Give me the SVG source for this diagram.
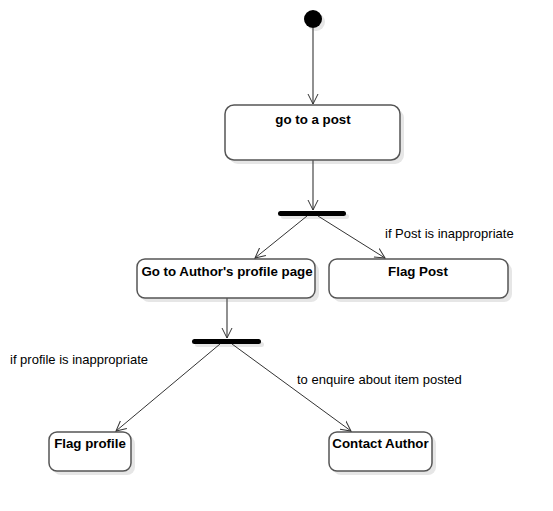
<svg xmlns="http://www.w3.org/2000/svg" width="553" height="511" viewBox="0 0 553 511">
<defs>
<marker id="arr" markerWidth="12" markerHeight="12" refX="10" refY="5" orient="auto" markerUnits="userSpaceOnUse" viewBox="0 0 12 10">
<path d="M0,0 L10,5 L0,10" fill="none" stroke="#333" stroke-width="1"/>
</marker>
</defs>
<style>
.box{fill:#fff;stroke:#555;stroke-width:1.5}
.sh{fill:#e6e6e6}
.lbl{font-family:"Liberation Sans",Arial,sans-serif;font-size:13.3px;font-weight:bold;fill:#000;text-anchor:middle}
.guard{font-family:"Liberation Sans",Arial,sans-serif;font-size:13px;fill:#000}
.bar{fill:#000}
.barsh{fill:#e6e6e6}
.c{stroke:#333;stroke-width:1;fill:none;marker-end:url(#arr)}
.cv{stroke:#555;stroke-width:1.3;fill:none;marker-end:url(#arr)}
</style>
<rect width="553" height="511" fill="#fff"/>
<g id="start">
<circle cx="316" cy="22" r="9" class="sh"/>
<circle cx="313" cy="19" r="9" fill="#000"/>
</g>
<g id="goPost">
<rect x="229" y="109" width="175" height="55" rx="9" class="sh"/>
<rect x="225" y="105" width="175" height="55" rx="9" class="box"/>
<text x="313" y="124" class="lbl">go to a post</text>
</g>
<g id="fork1">
<rect x="281" y="214" width="68" height="5" rx="2.5" class="barsh"/>
<rect x="278" y="211" width="68" height="5" rx="2.5" class="bar"/>
</g>
<g id="authorPage">
<rect x="141" y="263" width="178" height="39" rx="8" class="sh"/>
<rect x="137" y="259" width="178" height="39" rx="8" class="box"/>
<text x="227" y="276" class="lbl">Go to Author's profile page</text>
</g>
<g id="flagPost">
<rect x="333" y="263" width="179" height="39" rx="8" class="sh"/>
<rect x="329" y="259" width="179" height="39" rx="8" class="box"/>
<text x="418" y="276" class="lbl">Flag Post</text>
</g>
<g id="fork2">
<rect x="195" y="342" width="69" height="5" rx="2.5" class="barsh"/>
<rect x="192" y="339" width="69" height="5" rx="2.5" class="bar"/>
</g>
<g id="flagProfile">
<rect x="53" y="436" width="82" height="39" rx="8" class="sh"/>
<rect x="49" y="432" width="82" height="39" rx="8" class="box"/>
<text x="90" y="448" class="lbl">Flag profile</text>
</g>
<g id="contactAuthor">
<rect x="333" y="436" width="103" height="39" rx="8" class="sh"/>
<rect x="329" y="432" width="103" height="39" rx="8" class="box"/>
<text x="380.5" y="448" class="lbl">Contact Author</text>
</g>
<g id="connectors">
<line x1="313" y1="28" x2="313" y2="104" class="cv"/>
<line x1="313" y1="160" x2="313" y2="210" class="cv"/>
<line x1="307" y1="216" x2="255" y2="258" class="c"/>
<line x1="318" y1="216" x2="385" y2="258" class="c"/>
<line x1="227" y1="298" x2="227" y2="338" class="cv"/>
<line x1="220" y1="344" x2="116" y2="431" class="c"/>
<line x1="232" y1="344" x2="351" y2="431" class="c"/>
<text x="385" y="238" class="guard">if Post is inappropriate</text>
<text x="10" y="364" class="guard">if profile is inappropriate</text>
<text x="297" y="384" class="guard">to enquire about item posted</text>
</g>
</svg>
